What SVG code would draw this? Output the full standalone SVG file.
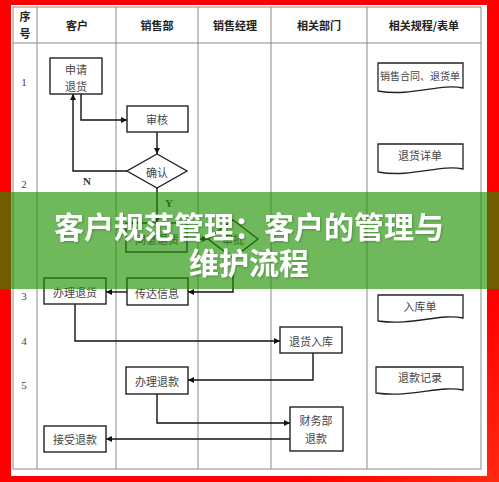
<svg xmlns="http://www.w3.org/2000/svg" width="499" height="482" viewBox="0 0 499 482">
<defs>
<linearGradient id="bg" x1="0" y1="0" x2="1" y2="1">
<stop offset="0" stop-color="#ff0000"/>
<stop offset="0.8" stop-color="#ff0000"/>
<stop offset="1" stop-color="#ff2a10"/>
</linearGradient>
<marker id="arr" viewBox="0 0 10 10" refX="10" refY="5" markerWidth="6" markerHeight="6" orient="auto" markerUnits="userSpaceOnUse">
<path d="M0,0 L10,5 L0,10 Z" fill="#111"/>
</marker>
<filter id="sh" x="-5%" y="-20%" width="110%" height="140%">
<feDropShadow dx="1" dy="1" stdDeviation="1" flood-color="#000" flood-opacity="0.25"/>
</filter>
</defs>
<style>
.grid{stroke:#8a8a8a;stroke-width:1;fill:none}
.box{fill:#fff;stroke:#222;stroke-width:1.4}
.doc{fill:#fff;stroke:#222;stroke-width:1.3}
.lbl{font-family:"Noto Sans CJK SC","Noto Sans CJK JP",sans-serif;font-size:11px;fill:#444;text-anchor:middle;dominant-baseline:central}
.sm{font-size:10px}
.hdr{font-family:"Noto Sans CJK SC","Noto Sans CJK JP",sans-serif;font-size:11px;font-weight:bold;fill:#222;text-anchor:middle;dominant-baseline:central}
.num{font-family:"Liberation Serif",serif;font-size:11px;fill:#444;text-anchor:middle;dominant-baseline:central}
.yn{font-family:"Liberation Serif",serif;font-size:11px;font-weight:bold;fill:#333;text-anchor:middle;dominant-baseline:central}
.con{fill:none;stroke:#111;stroke-width:1.4;marker-end:url(#arr)}
.ban{font-family:"Noto Sans CJK SC","Noto Sans CJK JP",sans-serif;font-size:30px;font-weight:bold;fill:#fff;text-anchor:middle;dominant-baseline:central}
</style>
<rect x="0" y="0" width="499" height="482" fill="url(#bg)"/>
<rect x="11" y="5" width="476" height="471" fill="#fff"/>
<g id="table">
<rect class="grid" x="13" y="7" width="468" height="462"/>
<line class="grid" x1="13" y1="43" x2="481" y2="43"/>
<line class="grid" x1="37" y1="7" x2="37" y2="469"/>
<line class="grid" x1="116" y1="7" x2="116" y2="469"/>
<line class="grid" x1="198" y1="7" x2="198" y2="469"/>
<line class="grid" x1="271" y1="7" x2="271" y2="469"/>
<line class="grid" x1="367" y1="7" x2="367" y2="469"/>
<text class="hdr" x="25" y="16">序</text>
<text class="hdr" x="25" y="33">号</text>
<text class="hdr" x="77" y="25">客户</text>
<text class="hdr" x="157" y="25">销售部</text>
<text class="hdr" x="235" y="25">销售经理</text>
<text class="hdr" x="319" y="25">相关部门</text>
<text class="hdr" x="424" y="25">相关规程/表单</text>
<text class="num" x="24" y="82">1</text>
<text class="num" x="24" y="184">2</text>
<text class="num" x="24" y="296">3</text>
<text class="num" x="24" y="341">4</text>
<text class="num" x="24" y="385">5</text>
</g>
<g id="connectors">
<path class="con" d="M81,94 V120 H127"/>
<path class="con" d="M157,132 V154"/>
<path class="con" d="M127,171 H73 V94"/>
<path class="con" d="M157,188 V223"/>
<path class="con" d="M187,239 H208"/>
<path class="con" d="M233,258 V292 H188"/>
<path class="con" d="M127,292 H106"/>
<path class="con" d="M75,304 V341 H280"/>
<path class="con" d="M313,353 V380 H188"/>
<path class="con" d="M157,394 V423 H290"/>
<path class="con" d="M290,439 H106"/>
<text class="yn" x="87" y="181">N</text>
<text class="yn" x="169" y="203">Y</text>
</g>
<g id="n-apply">
<rect class="box" x="50" y="58" width="52" height="36"/>
<text class="lbl" x="76" y="69">申请</text>
<text class="lbl" x="76" y="86">退货</text>
</g>
<g id="n-review">
<rect class="box" x="127" y="106" width="61" height="26"/>
<text class="lbl" x="157" y="119">审核</text>
</g>
<g id="n-confirm">
<path class="box" d="M157,154 L187,171 L157,188 L127,171 Z"/>
<text class="lbl" x="157" y="172">确认</text>
</g>
<g id="n-agree">
<rect class="box" x="126" y="223" width="61" height="29"/>
<text class="lbl" x="157" y="239">同意退货</text>
</g>
<g id="n-approve">
<path class="box" d="M233,220 L258,239 L233,258 L208,239 Z"/>
<text class="lbl" x="233" y="239">审批</text>
</g>
<g id="n-convey">
<rect class="box" x="127" y="278" width="61" height="27"/>
<text class="lbl" x="157" y="293">传达信息</text>
</g>
<g id="n-handle-return">
<rect class="box" x="44" y="278" width="62" height="26"/>
<text class="lbl" x="75" y="292">办理退货</text>
</g>
<g id="n-stock-in">
<rect class="box" x="280" y="327" width="62" height="26"/>
<text class="lbl" x="311" y="341">退货入库</text>
</g>
<g id="n-handle-refund">
<rect class="box" x="126" y="367" width="62" height="27"/>
<text class="lbl" x="157" y="381">办理退款</text>
</g>
<g id="n-finance">
<rect class="box" x="290" y="407" width="53" height="44"/>
<text class="lbl" x="316" y="420">财务部</text>
<text class="lbl" x="316" y="438">退款</text>
</g>
<g id="n-accept">
<rect class="box" x="44" y="426" width="62" height="26"/>
<text class="lbl" x="75" y="439">接受退款</text>
</g>
<g id="d-contract">
<path class="doc" d="M378,63 H463 V88 C440,83 412,97 378,91 Z"/>
<text class="lbl sm" x="420" y="75">销售合同、退货单</text>
</g>
<g id="d-detail">
<path class="doc" d="M378,144 H463 V169 C440,164 412,178 378,172 Z"/>
<text class="lbl" x="420" y="155">退货详单</text>
</g>
<g id="d-stock">
<path class="doc" d="M378,295 H463 V318 C440,313 412,326 378,321 Z"/>
<text class="lbl" x="420" y="306">入库单</text>
</g>
<g id="d-refund">
<path class="doc" d="M376,367 H463 V390 C440,385 412,398 376,393 Z"/>
<text class="lbl" x="420" y="377">退款记录</text>
</g>
<g id="banner">
<rect x="0" y="192" width="499" height="97" fill="#1e9200" fill-opacity="0.64"/>
<text class="ban" x="249" y="225" filter="url(#sh)">客户规范管理：客户的管理与</text>
<text class="ban" x="249" y="261" filter="url(#sh)">维护流程</text>
</g>
</svg>
